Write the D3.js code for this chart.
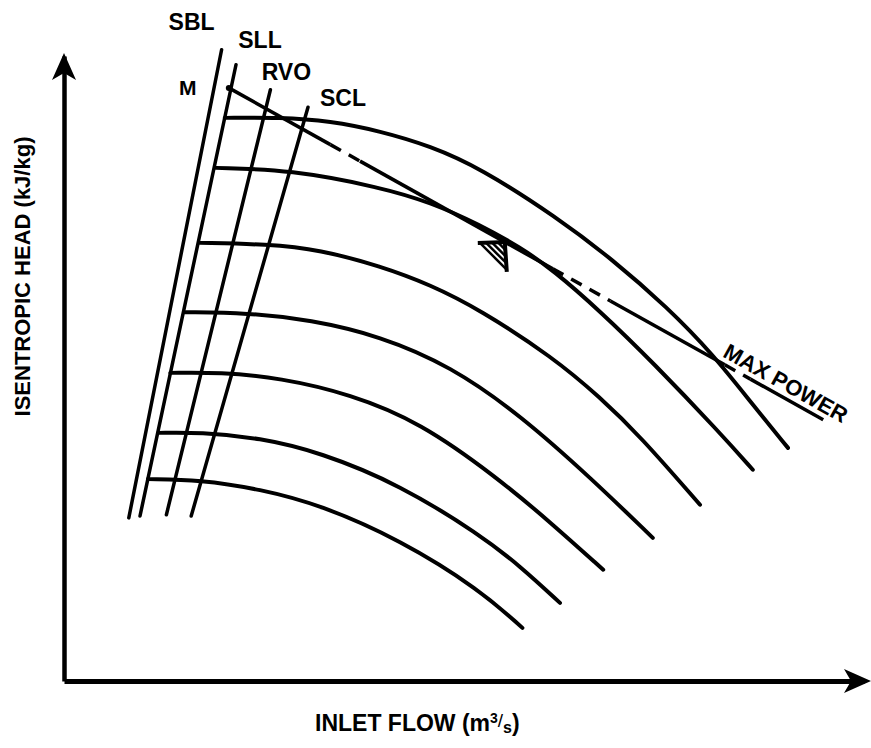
<!DOCTYPE html>
<html>
<head>
<meta charset="utf-8">
<script src="https://cdn.jsdelivr.net/npm/d3@7"></script>
<style>
  html, body { margin: 0; padding: 0; background: #fff; }
  svg { display: block; }
  text { font-family: "Liberation Sans", Arial, sans-serif; font-weight: bold; fill: #000; }
</style>
</head>
<body>
<div id="grafico"></div>
<script>
// Speed lines, [inlet flow, isentropic head] in relative units (0-100)
const speed1 = [[20.1, 90.1], [27, 90.2], [33.3, 89.6], [39.5, 88], [45.8, 85.6], [52, 82.1], [61.6, 74.2], [68.6, 67.4], [75.4, 59.8], [81.1, 52.3], [86.1, 44.2], [90.5, 37.3]];
const speed2 = [[19, 82.1], [28.3, 81.8], [39.5, 79], [45.8, 76.6], [52, 73], [57, 69.4], [61.1, 65.8], [67, 59.2], [73.6, 51], [82, 39.7], [86.1, 33.8]];
const speed3 = [[17, 70.1], [25.4, 69.9], [32, 69], [39.5, 66.4], [45.8, 63.4], [52, 59.4], [61.1, 51.8], [67, 45.4], [72, 39.2], [79.5, 28.2]];
const speed4 = [[15.1, 59], [22.9, 58.9], [30.8, 57.8], [39.5, 55.2], [48.3, 50.4], [57, 42.6], [66.1, 32.2], [73.6, 22.9]];
const speed5 = [[13.3, 49.3], [19.5, 49.4], [27, 48.5], [35.8, 45.9], [44.5, 41.4], [54.1, 32.6], [60.8, 25.4], [67.4, 17.8]];
const speed6 = [[11.8, 39.7], [17, 39.8], [24.5, 38.9], [32, 36.6], [42, 31.4], [52, 23.4], [57, 18.4], [62, 12.5]];
const speed7 = [[10.5, 32.3], [17, 32.2], [24.5, 30.7], [32, 28.2], [42, 22.6], [52, 14.6], [57.3, 8.5]];
const speedLines = [speed1, speed2, speed3, speed4, speed5, speed6, speed7];

// Limit lines (bottom and top ends)
const limitNames = ["SBL", "SLL", "RVO", "SCL"];
const limitFlowLow = [8.1, 9.5, 12.8, 15.9];
const limitHeadLow = [26.1, 26.4, 26.6, 26.4];
const limitFlowHigh = [19.7, 21.5, 25.8, 30.5];
const limitHeadHigh = [101, 98.6, 94.6, 91.8];

// Max power line from point M
const pointM = [20.6, 94.9];
const maxPowerEnd = [94.9, 41.8];
const maxPowerDashed = [[33.3, 37], [61.1, 68.3], [82.6, 85.8]];
const designFlow = 55.1;
const maxPowerLabelFlow = 89.4;

const graficar = () => {
  const width = 871;
  const height = 748;

  const x = d3.scaleLinear().domain([0, 100]).range([64, 864]);
  const y = d3.scaleLinear().domain([0, 100]).range([681, 56]);

  const svg = d3.select("#grafico")
    .append("svg")
    .attr("width", width)
    .attr("height", height);

  /* axes (no ticks, arrow heads) */
  svg.append("g")
    .attr("transform", `translate(0,${y(0)})`)
    .call(d3.axisBottom(x).ticks(0).tickSizeOuter(0))
    .call(g => g.select(".domain").attr("stroke", "#000").attr("stroke-width", 5));

  svg.append("g")
    .attr("transform", `translate(${x(0)},0)`)
    .call(d3.axisLeft(y).ticks(0).tickSizeOuter(0))
    .call(g => g.select(".domain").attr("stroke", "#000").attr("stroke-width", 4.5));

  // arrow heads
  const arrow = "M0,0L-27,-12L-20,0L-27,12Z";
  svg.append("path")
    .attr("d", arrow)
    .attr("transform", `translate(${x(100) + 7},${y(0)})`);
  svg.append("path")
    .attr("d", arrow)
    .attr("transform", `translate(${x(0)},${y(100) - 3}) rotate(-90)`);

  // axis titles
  svg.append("text")
    .attr("transform", `translate(30,${(y(0) + y(100)) / 2 - 92}) rotate(-90)`)
    .attr("text-anchor", "middle")
    .style("font-size", "22px")
    .text("ISENTROPIC HEAD (kJ/kg)");

  const xt = svg.append("text")
    .attr("x", 315)
    .attr("y", 731)
    .style("font-size", "23px");
  xt.append("tspan").text("INLET FLOW (m");
  xt.append("tspan").attr("dy", -8).style("font-size", "14px").text("3");
  xt.append("tspan").attr("dy", 4).style("font-size", "19px").style("font-weight", "normal").text("/");
  xt.append("tspan").attr("dy", 6).style("font-size", "16px").text("s");
  xt.append("tspan").attr("dy", -2).text(")");

  /* speed lines */
  const lineGen = d3.line()
    .x(d => x(d[0]))
    .y(d => y(d[1]))
    .curve(d3.curveBasis);

  svg.append("g")
    .selectAll("path")
    .data(speedLines)
    .join("path")
    .attr("d", lineGen)
    .attr("fill", "none")
    .attr("stroke", "#000")
    .attr("stroke-width", 4)
    .attr("stroke-linecap", "round");

  /* limit lines */
  const labelOffset = [[-30, -20], [24, -17], [16, -10], [35, -1]];
  const limits = svg.append("g");
  limitNames.forEach((name, i) => {
    limits.append("line")
      .attr("x1", x(limitFlowLow[i]))
      .attr("y1", y(limitHeadLow[i]))
      .attr("x2", x(limitFlowHigh[i]))
      .attr("y2", y(limitHeadHigh[i]))
      .attr("stroke", "#000")
      .attr("stroke-width", 3.5)
      .attr("stroke-linecap", "round");
    limits.append("text")
      .attr("x", x(limitFlowHigh[i]) + labelOffset[i][0])
      .attr("y", y(limitHeadHigh[i]) + labelOffset[i][1])
      .attr("text-anchor", "middle")
      .style("font-size", "23px")
      .text(name);
  });

  /* max power line */
  const mpHead = d3.scaleLinear().domain([pointM[0], maxPowerEnd[0]]).range([pointM[1], maxPowerEnd[1]]);
  const segs = [];
  let f0 = pointM[0];
  maxPowerDashed.forEach(([a, b]) => {
    segs.push({ a: f0, b: a, dash: false });
    segs.push({ a: a, b: b, dash: true });
    f0 = b;
  });
  segs.push({ a: f0, b: maxPowerEnd[0], dash: false });

  svg.append("g")
    .selectAll("line")
    .data(segs)
    .join("line")
    .attr("x1", d => x(d.a))
    .attr("y1", d => y(mpHead(d.a)))
    .attr("x2", d => x(d.b))
    .attr("y2", d => y(mpHead(d.b)))
    .attr("stroke", "#000")
    .attr("stroke-width", 3.5)
    .attr("stroke-dasharray", d => d.dash ? "12,9" : null);

  // point M
  svg.append("circle")
    .attr("cx", x(pointM[0]))
    .attr("cy", y(pointM[1]))
    .attr("r", 3);
  svg.append("text")
    .attr("x", x(pointM[0]) - 41)
    .attr("y", y(pointM[1]) + 7)
    .attr("text-anchor", "middle")
    .style("font-size", "21px")
    .text("M");

  // MAX POWER label along the line
  const ang = Math.atan2(y(maxPowerEnd[1]) - y(pointM[1]), x(maxPowerEnd[0]) - x(pointM[0])) * 180 / Math.PI;
  svg.append("text")
    .attr("transform", `translate(${x(maxPowerLabelFlow)},${y(mpHead(maxPowerLabelFlow))}) rotate(${ang}) translate(0,-6)`)
    .attr("text-anchor", "middle")
    .style("font-size", "22px")
    .text("MAX POWER");

  // design point marker (hatched corner)
  const ax = x(designFlow), ay = y(mpHead(designFlow));
  const B = [ax - 27, ay + 1], C = [ax + 2, ay + 30];
  const mk = svg.append("g").attr("stroke", "#000").attr("fill", "none");
  mk.append("path")
    .attr("d", `M${B[0]},${B[1]}L${ax},${ay}L${C[0]},${C[1]}`)
    .attr("stroke-width", 4);
  [0.08, 0.3, 0.52, 0.74].forEach(t => {
    mk.append("line")
      .attr("x1", B[0] + t * (ax - B[0]))
      .attr("y1", B[1] + t * (ay - B[1]))
      .attr("x2", C[0] + t * (ax - C[0]))
      .attr("y2", C[1] + t * (ay - C[1]))
      .attr("stroke-width", 2.5);
  });
};

graficar();
</script>
</body>
</html>
